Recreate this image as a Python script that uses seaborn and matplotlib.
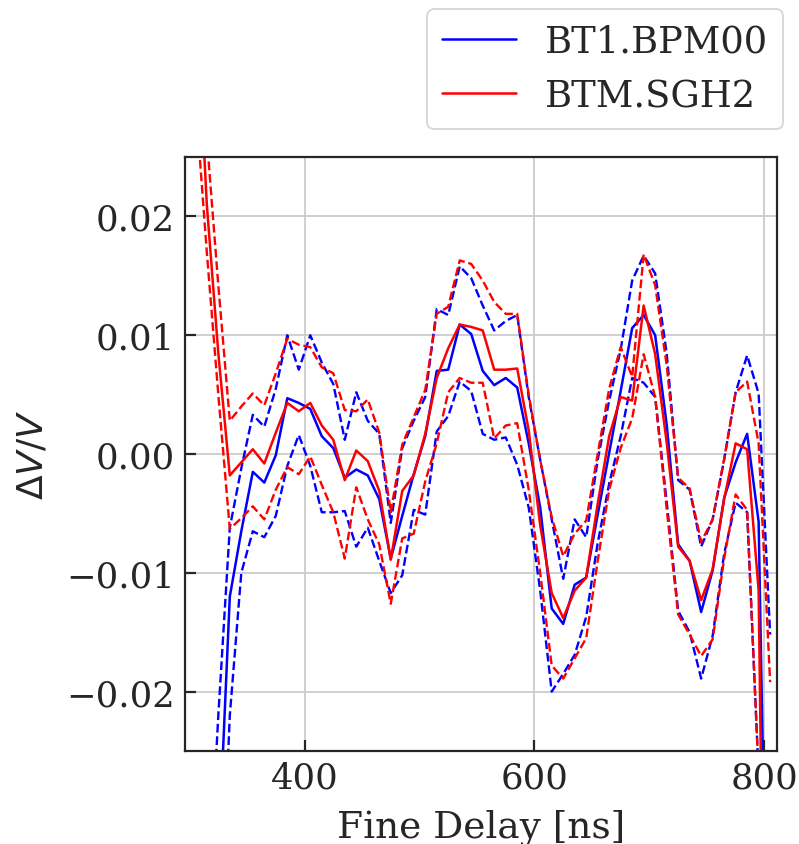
import numpy as np
import pandas as pd
import matplotlib
matplotlib.use("Agg")
import matplotlib.pyplot as plt
import seaborn as sns

# ---------------- data ----------------
delay = list(range(305, 806, 10))

bpm_mean = [-0.075, -0.055, -0.034, -0.012, -0.0065, -0.0015, -0.0024, -0.0001, 0.0047, 0.0043,
            0.0038, 0.0015, 0.0005, -0.0020, -0.0013, -0.0018, -0.0038, -0.0088, -0.0052, -0.0017,
            0.0015, 0.0070, 0.0071, 0.0109, 0.0101, 0.0070, 0.0058, 0.0064, 0.0056, 0.0009,
            -0.0045, -0.0130, -0.0143, -0.0110, -0.0104, -0.0051, 0.0001, 0.0053, 0.0106, 0.0117,
            0.0100, 0.0025, -0.0076, -0.0090, -0.0133, -0.0098, -0.0037, -0.0007, 0.0017, -0.0057,
            -0.060]
bpm_upper = [-0.065, -0.040, -0.022, -0.0062, -0.0012, 0.0033, 0.0023, 0.0055, 0.0100, 0.0071,
             0.0100, 0.0077, 0.0059, 0.0012, 0.0052, 0.0028, 0.0017, -0.0058, 0.0005, 0.0028,
             0.0048, 0.0122, 0.0117, 0.0158, 0.0148, 0.0125, 0.0104, 0.0112, 0.0117, 0.0048,
             -0.0005, -0.0055, -0.0105, -0.0055, -0.0070, -0.0005, 0.0045, 0.0088, 0.0146, 0.0167,
             0.0152, 0.0085, -0.0022, -0.0030, -0.0078, -0.0055, -0.0005, 0.0052, 0.0083, 0.0051,
             -0.0152]
bpm_lower = [-0.090, -0.070, -0.045, -0.022, -0.0100, -0.0065, -0.0070, -0.0052, -0.0010, 0.0016,
             -0.0010, -0.0049, -0.0049, -0.0048, -0.0078, -0.0062, -0.0090, -0.0117, -0.0102, -0.0047,
             -0.0051, 0.0019, 0.0032, 0.0061, 0.0053, 0.0017, 0.0012, 0.0014, -0.0009, -0.0045,
             -0.0115, -0.0200, -0.0185, -0.0169, -0.0137, -0.0075, -0.0025, 0.0015, 0.0064, 0.0060,
             0.0048, -0.0040, -0.0132, -0.0150, -0.0189, -0.0153, -0.0084, -0.0041, -0.0049, -0.027,
             -0.070]

sgh_mean = [0.040, 0.021, 0.0085, -0.0018, -0.0007, 0.0004, -0.0008, 0.0018, 0.0043, 0.0036,
            0.0043, 0.0024, 0.0012, -0.0022, 0.0003, -0.0006, -0.0031, -0.0089, -0.0031, -0.0018,
            0.0017, 0.0064, 0.0089, 0.0109, 0.0107, 0.0104, 0.0071, 0.0071, 0.0072, 0.0020,
            -0.0060, -0.0117, -0.0138, -0.0115, -0.0104, -0.0042, 0.0015, 0.0048, 0.0045, 0.0125,
            0.0084, 0.0010, -0.0078, -0.0090, -0.0123, -0.0097, -0.0038, 0.0009, 0.0004, -0.0115,
            -0.085]
sgh_upper = [0.050, 0.0266, 0.0142, 0.0028, 0.0040, 0.0051, 0.0041, 0.0068, 0.0097, 0.0092,
             0.0090, 0.0073, 0.0068, 0.0037, 0.0036, 0.0046, 0.0018, -0.0049, 0.0008, 0.0031,
             0.0054, 0.0118, 0.0124, 0.0163, 0.0160, 0.0146, 0.0128, 0.0118, 0.0118, 0.0050,
             -0.0005, -0.0053, -0.0086, -0.0067, -0.0056, 0.0000, 0.0055, 0.0090, 0.0065, 0.0168,
             0.0142, 0.0075, -0.0020, -0.0029, -0.0074, -0.0055, -0.0004, 0.0052, 0.0061, 0.0009,
             -0.0192]
sgh_lower = [0.030, 0.017, 0.005, -0.0063, -0.0054, -0.0044, -0.0055, -0.0030, -0.0011, -0.0017,
             -0.0002, -0.0026, -0.0049, -0.0088, -0.0028, -0.0055, -0.0076, -0.0126, -0.0071, -0.0067,
             -0.0023, 0.0009, 0.0052, 0.0064, 0.0060, 0.0060, 0.0013, 0.0024, 0.0026, -0.0030,
             -0.0100, -0.0178, -0.0189, -0.0172, -0.0155, -0.0090, -0.0030, 0.0005, 0.0030, 0.0084,
             0.0048, -0.0046, -0.0135, -0.0152, -0.0170, -0.0156, -0.0088, -0.0034, -0.0047, -0.027,
             -0.090]

names = ["BT1.BPM00", "BTM.SGH2"]
colors = ["#0000ff", "#ff0000"]

# ---------------- style ----------------
sns.set_theme(style="whitegrid")
plt.rcParams["font.family"] = ["DejaVu Serif"]
plt.rcParams["mathtext.fontset"] = "dejavusans"
plt.rcParams.update({
    "axes.edgecolor": "#262626",
    "axes.linewidth": 1.6,
    "grid.color": "#cccccc",
    "grid.linewidth": 1.3,
    "xtick.direction": "in",
    "ytick.direction": "in",
    "xtick.bottom": True,
    "ytick.left": True,
    "xtick.major.size": 8,
    "ytick.major.size": 8,
    "xtick.major.width": 1.6,
    "ytick.major.width": 1.6,
    "xtick.color": "#262626",
    "ytick.color": "#262626",
})

fig = plt.figure(figsize=(7.99, 8.45), dpi=100)
ax = fig.add_axes([0.2315, 0.110, 0.741, 0.703])

series = [
    (names[0], colors[0], bpm_mean, bpm_upper, bpm_lower),
    (names[1], colors[1], sgh_mean, sgh_upper, sgh_lower),
]
for name, col, mean, up, lo in series:
    sns.lineplot(x=delay, y=mean, color=col, lw=1.8, ax=ax, label=name)
    sns.lineplot(x=delay, y=up, color=col, lw=1.7, ls="--", ax=ax, legend=False)
    sns.lineplot(x=delay, y=lo, color=col, lw=1.7, ls="--", ax=ax, legend=False)

ax.set_xlim(296, 811)
ax.set_ylim(-0.025, 0.025)
ax.set_xticks([400, 600, 800])
ax.set_yticks([-0.02, -0.01, 0.0, 0.01, 0.02])
ax.set_yticklabels(["\u22120.02", "\u22120.01", "0.00", "0.01", "0.02"])
ax.tick_params(axis="both", labelsize=25.5, pad=7)
ax.set_xlabel("Fine Delay [ns]", fontsize=27, labelpad=10)
ax.set_ylabel(r"$\Delta V/V$", fontsize=26, labelpad=12)

leg = ax.legend(loc="lower right", bbox_to_anchor=(1.0101, 1.047), borderaxespad=0,
                fontsize=26.5, frameon=True, fancybox=True)
leg.get_frame().set_edgecolor("#cccccc")
leg.get_frame().set_linewidth(1.3)

fig.savefig("out.png", dpi=100)
